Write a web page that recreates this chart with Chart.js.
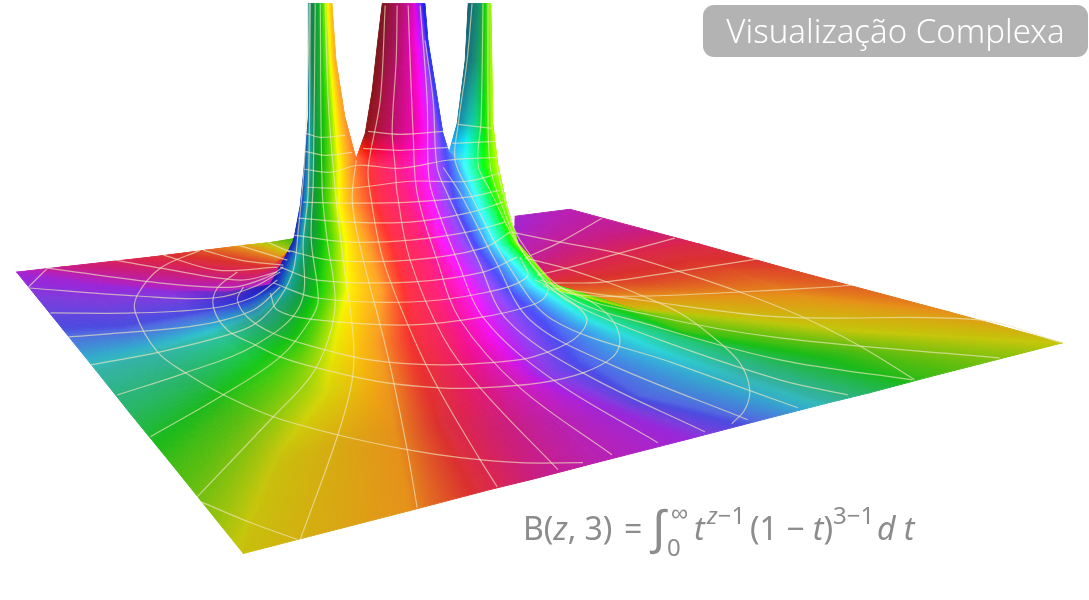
<!DOCTYPE html>
<html>
<head>
<meta charset="utf-8">
<script src="https://cdn.jsdelivr.net/npm/chart.js@4"></script>
<style>
  body { margin: 0; background: #fff; }
  #wrap { position: relative; width: 1089px; height: 600px; overflow: hidden; }
  canvas { position: absolute; left: 0; top: 0; }
  #badge { position: absolute; left: 703px; top: 5px; width: 385px; height: 52px; background: #b3b3b3; border-radius: 11px;
    color: #fff; font: 300 33px "Noto Sans", sans-serif; line-height: 52px; text-align: center; white-space: nowrap; }
  #formula span { position: absolute; line-height: 0; white-space: pre; color: #8c8c8c; font-family: "Noto Sans", sans-serif; font-size: 32px; }
  #formula .small { font-size: 24px; }
  #formula i { font-style: italic; }
</style>
</head>
<body>
<div id="wrap">
  <canvas id="surface" width="1089" height="600"></canvas>
  <div id="badge">Visualização Complexa</div>
  <div id="formula">
    <span style="left:523px;top:528px">B(<i>z</i>, 3)</span>
    <span style="left:624px;top:528px">=</span>
    <span style="left:652px;top:526px;font-size:48px">∫</span>
    <span class="small" style="left:671px;top:512px">∞</span>
    <span class="small" style="left:667px;top:547px">0</span>
    <span style="left:694px;top:528px"><i>t</i></span>
    <span class="small" style="left:707px;top:515px"><i>z</i>−1</span>
    <span style="left:750px;top:528px">(1 − <i>t</i>)</span>
    <span class="small" style="left:833px;top:515px">3−1</span>
    <span style="left:877px;top:528px"><i>d t</i></span>
  </div>
</div>
<script>
// front of the surface: one row per meridian, from floor edge up to the top of the body
const frontX = [
  [16,90,170,228,270,293,300,304],
  [62,120,190,245,278,297,304,307],
  [95,150,215,262,290,304,309,312],
  [130,190,240,282,303,313,315,318],
  [170,225,270,305,323,327,326,328],
  [243,280,325,335,350,347,340,340],
  [410,395,388,378,381,367,354,356],
  [490,445,418,412,408,397,382,375],
  [535,500,460,450,438,425,408,400],
  [600,555,510,485,465,441,430,423],
  [690,620,545,518,491,463,446,437],
  [755,640,585,552,511,478,459,449],
  [825,740,660,585,533,494,478,463],
  [870,780,690,600,545,508,493,480],
  [930,847,683,620,552,513,500,490],
  [1063,850,700,635,558,518,507,498]
];
const frontY = [
  [272,283,291,292,285,242,205,165],
  [329,327,315,303,287,245,205,165],
  [370,355,335,317,290,245,205,165],
  [414,380,352,330,292,245,205,165],
  [463,412,375,340,292,243,205,165],
  [554,460,395,345,290,243,205,165],
  [511,430,385,345,290,243,205,158],
  [490,425,380,343,290,243,205,165],
  [479,425,375,340,290,243,205,165],
  [462,420,370,337,290,243,205,165],
  [439,410,375,332,290,243,205,165],
  [422,395,360,322,288,243,205,152],
  [404,375,350,320,285,243,205,165],
  [393,365,340,312,284,243,205,165],
  [377,353,330,305,284,243,205,165],
  [343,330,315,310,290,243,205,165]
];
// phase (hue in degrees) at each mesh point
const frontPhase = [
  [285,283,275,265,245,240,235,230],
  [240,240,238,235,225,215,210,205],
  [175,175,172,170,170,168,165,165],
  [145,145,140,135,140,135,135,130],
  [105,105,105,105,110,110,105,100],
  [57,57,60,60,56,58,58,58],
  [35,35,35,35,35,35,35,20],
  [350,355,5,0,355,352,352,350],
  [325,330,340,338,335,335,335,330],
  [303,305,305,308,308,305,305,305],
  [278,275,272,272,272,270,270,275],
  [232,232,232,232,232,232,232,230],
  [178,178,180,185,185,185,185,185],
  [145,145,150,150,140,140,135,135],
  [105,105,105,105,110,110,105,100],
  [60,60,65,70,80,85,85,75]
];
const frontRowGlow = [0,0,0.3,0.65,1,1,1,1];
const frontColGlow = [0,0.2,0.4,0.6,0.8,1,1,1,1,1,1,1,0.8,0.6,0.4,0.2];
const frontColDark = [25,22,25,20,8,0,0,0,0,0,0,0,0,0,0,0];

const backRightX = [
  [1063,850,700,635,558],[950,800,680,590,553],[800,730,650,570,545],[700,650,600,550,535],
  [640,600,570,540,525],[570,560,540,525,515],[515,515,512,510,507]
];
const backRightY = [
  [343,330,315,310,290],[312,295,295,298,290],[272,270,282,285,283],[244,252,265,278,277],
  [228,235,245,260,262],[209,220,232,245,243],[216,225,232,235,217]
];
const backRightPhase = [60,35,12,350,322,303,285];

const backLeftX = [
  [16,90,170,228,270],[60,133,200,250,283],[150,190,233,262,287],[205,235,255,275,290],
  [245,260,272,283,292],[272,280,286,290,294],[296,296,296,296,296]
];
const backLeftY = [
  [272,283,291,292,285],[267,273,278,280,268],[257,262,267,270,260],[250,255,258,262,252],
  [245,248,252,255,245],[242,244,246,248,242],[238,239,240,241,242]
];
const backLeftPhase = [285,322,350,15,40,75,105];

// the three tines above the body
const leftTineX = [[308,308,308,304],[310,310,310,307],[313,313,314,312],[318,318,318,318],[323,325,327,328],[328,331,336,340],[332,336,345,356]];
const leftTineY = [[3,60,117,165],[3,60,117,165],[3,60,117,165],[3,60,117,165],[3,60,117,165],[3,60,117,165],[3,60,117,158]];
const leftTinePhase = [[210,210,220,230],[165,170,185,205],[150,150,155,165],[135,135,135,130],[105,105,105,100],[60,58,58,58],[40,35,30,20]];
const leftTineDark = [[28,28,28,25],[28,28,27,22],[27,27,26,25],[18,18,18,20],[5,5,8,8],[0,0,0,0],[0,0,0,0]];

const midTineX = [[382,377,372,365,356],[390,386,382,378,375],[402,400,398,397,400],[414,415,417,419,423],[421,425,430,435,437],[425,428,435,443,449]];
const midTineY = [[3,45,90,133,158],[3,45,90,133,165],[3,45,90,133,165],[3,45,90,133,165],[3,45,90,133,165],[3,40,83,133,152]];
const midTinePhase = [[0,0,0,0,20],[340,340,342,345,350],[325,325,325,325,330],[305,310,312,315,305],[260,270,275,280,275],[230,230,232,235,230]];
const midTineDark = [[33,33,31,28,0],[25,25,22,20,0],[16,16,15,13,0],[10,6,5,5,0],[8,3,0,0,0],[16,13,7,3,0]];

const rightTineX = [[468,465,457,449],[473,472,468,463],[479,478,477,480],[484,484,486,490],[491,492,493,498]];
const rightTineY = [[3,60,123,152],[3,60,123,165],[3,60,123,165],[3,60,123,165],[3,60,123,165]];
const rightTinePhase = [[195,195,195,210],[178,178,180,185],[165,160,155,135],[125,120,115,100],[80,78,75,75]];
const rightTineDark = [[36,34,26,0],[35,33,22,0],[28,24,12,0],[12,10,5,0],[0,0,0,0]];

// pale grid drawn over the surface
const ringLines = [
  [[270,293],[277,310],[317,320],[410,325],[483,317],[537,303],[548,290],[537,270]],
  [[273,283],[317,298],[410,302],[483,293],[527,277],[520,257]],
  [[280,267],[317,280],[410,282],[483,272],[517,257]],
  [[287,250],[330,260],[410,260],[483,248],[510,232]],
  [[293,235],[350,242],[410,240],[467,232],[505,222]],
  [[298,218],[350,222],[410,222],[467,213],[503,202]],
  [[303,202],[350,203],[410,202],[467,197],[500,190]],
  [[307,187],[350,188],[410,181],[467,181],[500,173]],
  [[304,169],[330,172],[358,165],[400,168],[447,160],[475,158],[498,157]],
  [[305,151],[325,155],[352,152]],
  [[306,133],[320,137],[345,135]],
  [[363,148],[400,150],[448,147]],
  [[368,131],[400,134],[443,131]],
  [[452,143],[475,142],[495,141]],
  [[458,124],[475,126],[492,128]],
  [[243,287],[237,300],[248,318],[272,333],[307,345],[370,360],[440,365],[500,362],[533,357],[573,340],[587,320],[573,303],[543,285]],
  [[237,272],[217,288],[213,307],[227,330],[255,345],[280,357],[313,367],[380,382],[440,388],[480,388],[540,383],[583,373],[613,357],[620,340],[610,317],[583,297],[540,280]],
  [[200,250],[160,268],[137,295],[135,313],[157,352],[185,373],[223,395],[273,417],[337,435],[407,450],[460,458],[520,463],[583,463]],
  [[525,258],[565,268],[607,282],[643,296],[680,313],[713,337],[740,363],[750,390],[745,410],[732,424]],
  [[512,232],[560,242],[618,253],[678,271],[740,292],[803,317],[862,347],[915,380]],
  [[200,502],[250,523],[297,540]],
  [[47,268],[28,287]]
];
const spokeLines = [
  [[90,365],[160,352],[237,332],[260,320],[280,297],[293,270],[298,230],[304,165],[308,60],[309,3]],
  [[68,337],[120,333],[200,325],[253,310],[280,287]],
  [[50,313],[133,313],[213,308],[253,297],[277,280]],
  [[28,288],[137,296],[213,298],[253,287],[280,272]],
  [[47,268],[160,283],[233,287],[267,277],[283,267]],
  [[115,260],[160,268],[240,280],[277,272]],
  [[163,255],[217,270],[277,267]],
  [[203,250],[240,260],[283,265]],
  [[238,245],[287,260]],
  [[267,242],[290,252]],
  [[117,395],[185,373],[255,345],[300,305],[303,240],[308,190],[310,3]],
  [[150,437],[223,395],[280,357],[310,320],[318,300],[311,240],[313,180],[315,3]],
  [[197,497],[273,417],[310,377],[328,340],[335,300],[327,240],[322,190],[320,3]],
  [[300,540],[337,437],[352,380],[353,337],[343,260],[335,190],[328,100],[325,3]],
  [[417,508],[407,450],[393,380],[383,337],[360,247],[352,200],[356,160]],
  [[497,487],[480,460],[440,392],[413,337],[383,260],[370,193],[368,167],[380,100],[385,5]],
  [[558,470],[480,388],[443,337],[410,260],[397,193],[395,167],[392,130],[396,60],[397,5]],
  [[612,455],[520,388],[460,320],[437,260],[417,193],[413,133],[410,60],[408,5]],
  [[658,443],[553,380],[485,320],[457,260],[432,193],[428,167],[427,100],[420,5]],
  [[705,432],[583,373],[507,320],[478,260],[447,193],[437,167],[433,100],[425,40]],
  [[748,420],[607,363],[530,320],[495,260],[460,193],[443,167]],
  [[798,408],[673,363],[553,320],[508,265],[470,193],[455,160],[458,125],[467,60],[472,3]],
  [[848,395],[780,380],[660,340],[575,305],[548,285],[515,240],[490,190],[478,165],[481,120],[483,3]],
  [[913,380],[780,360],[650,325],[570,298],[525,255],[500,200],[490,165],[488,100],[488,3]],
  [[1000,358],[780,338],[650,315],[565,290],[520,240],[505,200],[497,167]],
  [[1063,343],[980,320],[780,317],[640,300],[555,288]],
  [[535,280],[570,294],[643,296],[740,292],[830,287],[852,285]],
  [[537,275],[567,268],[620,253],[675,238]],
  [[550,283],[603,282],[680,271],[757,259]],
  [[525,258],[560,242],[602,218]],
  [[510,222],[515,217]]
];

// floor colours are muted, the tall part of the surface is vivid
const hueStops = [0,35,58,95,145,175,230,265,300,325,355,360];
const floorSat = [70,80,90,85,65,55,70,70,70,75,70,70];
const floorLight = [52,50,41,40,43,45,60,55,42,45,52,52];
const vividLight = [60,58,50,50,55,62,65,65,55,55,60,60];

function stopValue(stops, hue) {
  const h = ((hue % 360) + 360) % 360;
  let i = 0;
  while (i < hueStops.length - 2 && hueStops[i + 1] <= h) i++;
  const t = (h - hueStops[i]) / (hueStops[i + 1] - hueStops[i]);
  return stops[i] + (stops[i + 1] - stops[i]) * t;
}
function cssColor(v) {
  const s = stopValue(floorSat, v.hue) + (100 - stopValue(floorSat, v.hue)) * v.glow - v.dark;
  const l = stopValue(floorLight, v.hue) + (stopValue(vividLight, v.hue) - stopValue(floorLight, v.hue)) * v.glow - v.dark;
  return `hsl(${((v.hue % 360) + 360) % 360},${s}%,${l}%)`;
}
function mixVertex(a, b, t) {
  const d = ((b.hue - a.hue + 540) % 360) - 180;
  return { x: a.x + (b.x - a.x) * t, y: a.y + (b.y - a.y) * t, hue: a.hue + d * t, glow: a.glow + (b.glow - a.glow) * t, dark: a.dark + (b.dark - a.dark) * t };
}

const cells = [];
function addMesh(xs, ys, vertexInfo) {
  for (let c = 0; c < xs.length - 1; c++) {
    for (let r = 0; r < xs[c].length - 1; r++) {
      const v = (i, j) => Object.assign({ x: xs[i][j], y: ys[i][j] }, vertexInfo(i, j));
      cells.push([v(c, r), v(c + 1, r), v(c + 1, r + 1), v(c, r + 1)]);
    }
  }
}
addMesh(backRightX, backRightY, (c) => ({ hue: backRightPhase[c], glow: 0, dark: 0 }));
addMesh(backLeftX, backLeftY, (c) => ({ hue: backLeftPhase[c], glow: 0, dark: 0 }));
addMesh(leftTineX, leftTineY, (c, r) => ({ hue: leftTinePhase[c][r], glow: 1, dark: leftTineDark[c][r] }));
addMesh(midTineX, midTineY, (c, r) => ({ hue: midTinePhase[c][r], glow: 1, dark: midTineDark[c][r] }));
addMesh(rightTineX, rightTineY, (c, r) => ({ hue: rightTinePhase[c][r], glow: 1, dark: rightTineDark[c][r] }));
addMesh(frontX, frontY, (c, r) => ({
  hue: frontPhase[c][r],
  glow: r >= 4 ? 1 : frontRowGlow[r] * frontColGlow[c],
  dark: r >= 4 ? frontColDark[c] : r === 3 ? frontColDark[c] * 0.4 : 0
}));

const datasets = [];
cells.forEach((q) => {
  datasets.push({
    data: [q[0], q[1], q[2], q[3], q[0]].map((p) => ({ x: p.x, y: p.y })),
    showLine: true, fill: "shape", pointRadius: 0, borderWidth: 1, tension: 0, order: 1000 - datasets.length
  });
});
[...ringLines, ...spokeLines].forEach((pts) => {
  datasets.push({
    data: pts.map((p) => ({ x: p[0], y: p[1] })),
    showLine: true, fill: false, pointRadius: 0, borderWidth: 1.2, tension: 0.35,
    borderColor: "rgba(238,230,190,0.66)", order: -1
  });
});

const chart = new Chart(document.getElementById("surface"), {
  type: "scatter",
  data: { datasets },
  options: {
    responsive: false,
    animation: false,
    layout: { padding: 0 },
    plugins: { legend: { display: false }, tooltip: { enabled: false } },
    scales: {
      x: { type: "linear", min: 0, max: 1089, display: false },
      y: { type: "linear", min: 0, max: 600, reverse: true, display: false }
    }
  }
});

// paint the smooth shading once, then every cell fills itself from it
const sx = chart.scales.x, sy = chart.scales.y;
const shade = document.createElement("canvas");
shade.width = chart.canvas.width;
shade.height = chart.canvas.height;
const sctx = shade.getContext("2d");
sctx.scale(chart.currentDevicePixelRatio, chart.currentDevicePixelRatio);
cells.forEach((q) => {
  const span = Math.max(Math.hypot(q[0].x - q[1].x, q[0].y - q[1].y), Math.hypot(q[3].x - q[2].x, q[3].y - q[2].y));
  const tall = Math.max(Math.hypot(q[0].x - q[3].x, q[0].y - q[3].y), Math.hypot(q[1].x - q[2].x, q[1].y - q[2].y));
  const nu = Math.ceil(span / 2.5) + 1, nv = Math.ceil(tall / 2.5) + 1;
  const at = (u, v) => mixVertex(mixVertex(q[0], q[1], u), mixVertex(q[3], q[2], u), v);
  for (let i = 0; i < nu; i++) {
    for (let j = 0; j < nv; j++) {
      const corners = [at(i / nu, j / nv), at((i + 1) / nu, j / nv), at((i + 1) / nu, (j + 1) / nv), at(i / nu, (j + 1) / nv)];
      const col = cssColor(at((i + 0.5) / nu, (j + 0.5) / nv));
      sctx.beginPath();
      corners.forEach((p, k) => {
        const px = sx.getPixelForValue(p.x), py = sy.getPixelForValue(p.y);
        k ? sctx.lineTo(px, py) : sctx.moveTo(px, py);
      });
      sctx.closePath();
      sctx.fillStyle = col;
      sctx.strokeStyle = col;
      sctx.lineWidth = 1;
      sctx.fill();
      sctx.stroke();
    }
  }
});
const shadePattern = chart.ctx.createPattern(shade, "no-repeat");
cells.forEach((q, i) => {
  datasets[i].backgroundColor = shadePattern;
  datasets[i].borderColor = shadePattern;
});
chart.update("none");
</script>
</body>
</html>
